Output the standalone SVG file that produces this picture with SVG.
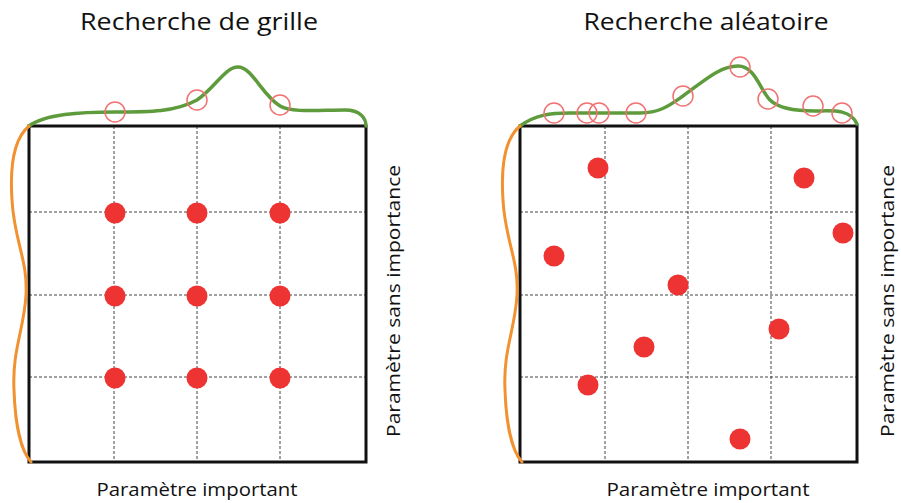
<svg xmlns="http://www.w3.org/2000/svg" width="901" height="503" viewBox="0 0 901 503">
<style>
.t{font-family:"Open Sans","Liberation Sans",sans-serif;fill:#111;}
.title{font-size:24px;text-anchor:middle;}
.lab{font-size:18.5px;text-anchor:middle;}
.box{fill:none;stroke:#111;stroke-width:3;}
.grid{stroke:#444;stroke-width:1;stroke-dasharray:3 2;fill:none;}
.dot{fill:#ee3333;}
.ring{fill:none;stroke:#f07272;stroke-width:1.5;}
.g{fill:none;stroke:#5d9b3c;stroke-width:3.5;stroke-linecap:round;}
.o{fill:none;stroke:#f29130;stroke-width:3;stroke-linecap:round;}
</style>
<rect width="901" height="503" fill="#fff"/>
<g id="grid-search">
<text class="t title" x="199" y="30" textLength="238" lengthAdjust="spacingAndGlyphs">Recherche de grille</text>
<g class="grid">
<line x1="114" y1="126" x2="114" y2="462"/><line x1="197" y1="126" x2="197" y2="462"/><line x1="280" y1="126" x2="280" y2="462"/>
<line x1="29" y1="212" x2="366" y2="212"/><line x1="29" y1="295" x2="366" y2="295"/><line x1="29" y1="377" x2="366" y2="377"/>
</g>
<rect class="box" x="29" y="126" width="337" height="336"/>
<path class="g" d="M29,126 C45,114 80,112 115,112 C150,112 175,112 197,100 C215,88 225,67 238,67 C252,67 262,95 280,106 C292,113 320,110 345,110 C360,110 366,118 366,126"/>
<path class="o" d="M29,126 C12,140 10,170 12,200 C14,240 28,260 26,295 C24,330 12,350 14,390 C15,420 20,450 31,462"/>
<g class="ring"><circle cx="115" cy="112" r="10"/><circle cx="197" cy="100" r="10"/><circle cx="280" cy="105" r="10"/></g>
<g class="dot">
<circle cx="115" cy="213" r="10.5"/><circle cx="197" cy="213" r="10.5"/><circle cx="280" cy="213" r="10.5"/>
<circle cx="115" cy="296" r="10.5"/><circle cx="197" cy="296" r="10.5"/><circle cx="280" cy="296" r="10.5"/>
<circle cx="115" cy="378" r="10.5"/><circle cx="197" cy="378" r="10.5"/><circle cx="280" cy="378" r="10.5"/>
</g>
<text class="t lab" x="197" y="496" textLength="201" lengthAdjust="spacingAndGlyphs">Paramètre important</text>
<text class="t lab" transform="translate(400,301) rotate(-90)" textLength="272" lengthAdjust="spacingAndGlyphs">Paramètre sans importance</text>
</g>
<g id="random-search">
<text class="t title" x="706" y="30" textLength="245" lengthAdjust="spacingAndGlyphs">Recherche aléatoire</text>
<g class="grid">
<line x1="605" y1="126" x2="605" y2="462"/><line x1="688" y1="126" x2="688" y2="462"/><line x1="771" y1="126" x2="771" y2="462"/>
<line x1="520" y1="212" x2="857" y2="212"/><line x1="520" y1="295" x2="857" y2="295"/><line x1="520" y1="377" x2="857" y2="377"/>
</g>
<rect class="box" x="520" y="126" width="337" height="336"/>
<path class="g" d="M520,126 C535,115 550,113 570,113 L640,113 C660,113 670,105 683,96 C705,80 720,66 738,66 C755,66 760,90 770,100 C780,110 800,111 815,111 C830,111 850,108 857,124"/>
<path class="o" d="M520,126 C503,140 501,170 503,200 C505,240 519,260 517,295 C515,330 503,350 505,390 C506,420 511,450 522,462"/>
<g class="ring">
<circle cx="554" cy="113" r="10"/><circle cx="587" cy="113" r="10"/><circle cx="599" cy="113" r="10"/><circle cx="636" cy="113" r="10"/>
<circle cx="683" cy="96" r="10"/><circle cx="740" cy="67" r="10"/><circle cx="768" cy="99" r="10"/><circle cx="813" cy="106" r="10"/><circle cx="842" cy="113" r="10"/>
</g>
<g class="dot">
<circle cx="598" cy="168" r="10.5"/><circle cx="804" cy="178" r="10.5"/><circle cx="843" cy="233" r="10.5"/>
<circle cx="554" cy="256" r="10.5"/><circle cx="678" cy="285" r="10.5"/><circle cx="779" cy="329" r="10.5"/>
<circle cx="644" cy="347" r="10.5"/><circle cx="588" cy="385" r="10.5"/><circle cx="740" cy="439" r="10.5"/>
</g>
<text class="t lab" x="708" y="496" textLength="203" lengthAdjust="spacingAndGlyphs">Paramètre important</text>
<text class="t lab" transform="translate(894,301) rotate(-90)" textLength="272" lengthAdjust="spacingAndGlyphs">Paramètre sans importance</text>
</g>
</svg>
